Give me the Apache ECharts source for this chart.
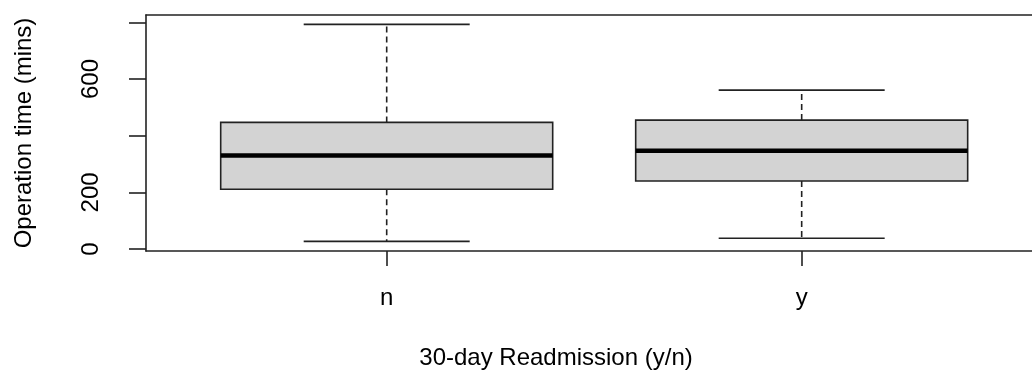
<!DOCTYPE html>
<html>
<head>
<meta charset="utf-8">
<script src="https://cdn.jsdelivr.net/npm/echarts@6/dist/echarts.min.js"></script>
<style>html,body{margin:0;padding:0;background:#fff;}#c{width:1032px;height:374px;}</style>
</head>
<body>
<div id="c"></div>
<script>
var categories = ['n', 'y'];
var mins = [27, 38];
var q1s = [211, 240];
var medians = [330, 347];
var q3s = [447, 455];
var maxs = [793, 561];
var yTickValues = [0, 200, 400, 600, 800];
var yLabelValues = [0, 200, 600];

var boxData = categories.map(function (c, i) {
  return [i + 1, mins[i], q1s[i], medians[i], q3s[i], maxs[i]];
});

var FONT = '"Liberation Sans", Arial, sans-serif';
var chart = echarts.init(document.getElementById('c'), null, {renderer: 'canvas'});

function renderItem(params, api) {
  var x = api.value(0);
  var mn = api.value(1), q1 = api.value(2), md = api.value(3), q3 = api.value(4), mx = api.value(5);
  var bw = 0.4, cw = 0.2;
  var pQ1L = api.coord([x - bw, q1]);
  var pQ3R = api.coord([x + bw, q3]);
  var pMin = api.coord([x, mn]);
  var pMax = api.coord([x, mx]);
  var pQ1 = api.coord([x, q1]);
  var pQ3 = api.coord([x, q3]);
  var pMdL = api.coord([x - bw, md]);
  var pMdR = api.coord([x + bw, md]);
  var cL = api.coord([x - cw, mn])[0];
  var cR = api.coord([x + cw, mn])[0];
  var lineStyle = {stroke: '#222', lineWidth: 1.6, fill: null};
  var dashStyle = {stroke: '#222', lineWidth: 1.6, lineDash: [6, 4], fill: null};
  return {
    type: 'group',
    children: [
      {type: 'line', shape: {x1: pQ3[0], y1: pQ3[1], x2: pMax[0], y2: pMax[1]}, style: dashStyle},
      {type: 'line', shape: {x1: pQ1[0], y1: pQ1[1], x2: pMin[0], y2: pMin[1]}, style: dashStyle},
      {type: 'line', shape: {x1: cL, y1: pMax[1], x2: cR, y2: pMax[1]}, style: lineStyle},
      {type: 'line', shape: {x1: cL, y1: pMin[1], x2: cR, y2: pMin[1]}, style: lineStyle},
      {type: 'rect', shape: {x: pQ1L[0], y: pQ3R[1], width: pQ3R[0] - pQ1L[0], height: pQ1L[1] - pQ3R[1]},
        style: {fill: '#d3d3d3', stroke: '#222', lineWidth: 1.6}},
      {type: 'line', shape: {x1: pMdL[0], y1: pMdL[1], x2: pMdR[0], y2: pMdR[1]}, style: {stroke: '#000', lineWidth: 4.5}}
    ]
  };
}

var axisLineStyle = {color: '#222', width: 1.6};

chart.setOption({
  animation: false,
  backgroundColor: '#fff',
  title: {
    text: '30-day Readmission (y/n)',
    left: 556, top: 346, textAlign: 'center', padding: 0,
    textStyle: {fontFamily: FONT, fontSize: 24, fontWeight: 'normal', color: '#000'}
  },
  grid: {
    left: 146, top: 15, right: 0, height: 236, show: false
  },
  xAxis: [{
    type: 'value', min: 0.42, max: 2.555,
    axisLine: {show: true, onZero: false, lineStyle: axisLineStyle},
    splitLine: {show: false},
    axisTick: {show: true, length: 15, customValues: [1, 2], lineStyle: axisLineStyle},
    axisLabel: {
      customValues: [1, 2], margin: 35,
      formatter: function (v) { return categories[Math.round(v) - 1] || ''; },
      fontFamily: FONT, fontSize: 24, color: '#000'
    }
  }, {
    type: 'value', min: 0.42, max: 2.555, position: 'top',
    axisLine: {show: true, onZero: false, lineStyle: axisLineStyle},
    axisTick: {show: false}, axisLabel: {show: false}, splitLine: {show: false}
  }],
  yAxis: {
    type: 'value', min: -7, max: 826,
    name: 'Operation time (mins)', nameLocation: 'middle', nameGap: 110, nameRotate: 90,
    nameTextStyle: {fontFamily: FONT, fontSize: 24, color: '#000'},
    axisLine: {show: true, onZero: false, lineStyle: axisLineStyle},
    splitLine: {show: false},
    axisTick: {show: true, length: 17, customValues: yTickValues, lineStyle: axisLineStyle},
    axisLabel: {
      customValues: yLabelValues, rotate: 90, margin: 43,
      fontFamily: FONT, fontSize: 24, color: '#000'
    }
  },
  series: [{
    type: 'custom',
    renderItem: renderItem,
    xAxisIndex: 0,
    encode: {x: 0, y: [1, 2, 3, 4, 5]},
    data: boxData
  }]
});
</script>
</body>
</html>
